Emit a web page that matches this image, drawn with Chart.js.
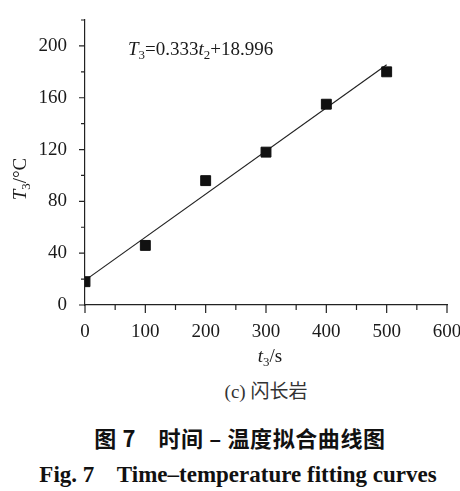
<!DOCTYPE html>
<html>
<head>
<meta charset="utf-8">
<script src="https://cdn.jsdelivr.net/npm/chart.js@4.4.1/dist/chart.umd.min.js"></script>
<style>
  body { margin: 0; background: #fff; }
  #pagina { position: relative; width: 460px; height: 491px; overflow: hidden; }
  #caixa { position: absolute; left: 0; top: 0; width: 460px; height: 370px; }
  .leg { position: absolute; white-space: pre; transform: translate(-50%, -50%); line-height: 1; }
  #sub { left: 266px; top: 389px; font: 19px "Liberation Serif", "Noto Sans CJK SC"; color: #333; }
  #titCn { left: 240px; top: 437px; font: bold 22px "Noto Sans CJK SC"; letter-spacing: 0.6px; color: #111; }
  #titEn { left: 238px; top: 475px; font: bold 23px "Liberation Serif"; color: #111; }
</style>
</head>
<body>
<div id="pagina">
  <div id="caixa"><canvas id="grafico"></canvas></div>
  <div class="leg" id="sub">(c) 闪长岩</div>
  <div class="leg" id="titCn">图 7    时间 – 温度拟合曲线图</div>
  <div class="leg" id="titEn">Fig. 7    Time–temperature fitting curves</div>
</div>
<script>
// dados
const tempos = [0, 100, 200, 300, 400, 500];
const temperaturas = [18, 46, 96, 118, 155, 180];

// reta ajustada T3 = 0.333 t2 + 18.996 (pontos extremos)
const ajusteX = [0, 500];
const ajusteY = [19.0, 185.5];

const ticksX = [0, 100, 200, 300, 400, 500, 600];
const ticksXMenor = [50, 150, 250, 350, 450, 550];
const ticksY = [0, 40, 80, 120, 160, 200];
const ticksYMenor = [20, 60, 100, 140, 180, 220];

const fonteSerif = '"Liberation Serif", "Times New Roman", serif';
const corTraco = '#222';

// escreve texto com itálico e subscrito
function textoRico(ctx, partes, x, y, tam, alinhar) {
    const fonteDe = p => (p.it ? 'italic ' : '') + (p.sub ? tam * 0.68 : tam) + 'px ' + fonteSerif;
    let largura = 0;
    partes.forEach(p => { ctx.font = fonteDe(p); largura += ctx.measureText(p.t).width; });
    let cx = alinhar === 'center' ? x - largura / 2 : x;
    ctx.textAlign = 'left';
    ctx.textBaseline = 'alphabetic';
    partes.forEach(p => {
        ctx.font = fonteDe(p);
        ctx.fillText(p.t, cx, p.sub ? y + tam * 0.2 : y);
        cx += ctx.measureText(p.t).width;
    });
}

const extras = {
    id: 'extras',
    afterDraw(chart) {
        const ctx = chart.ctx;
        const sx = chart.scales.x;
        const sy = chart.scales.y;
        const area = chart.chartArea;
        ctx.save();
        ctx.strokeStyle = corTraco;
        ctx.lineWidth = 1.2;
        ctx.beginPath();
        ticksX.forEach(v => { const p = sx.getPixelForValue(v); ctx.moveTo(p, area.bottom); ctx.lineTo(p, area.bottom + 8); });
        ticksXMenor.forEach(v => { const p = sx.getPixelForValue(v); ctx.moveTo(p, area.bottom); ctx.lineTo(p, area.bottom + 5); });
        ticksY.forEach(v => { const p = sy.getPixelForValue(v); ctx.moveTo(area.left, p); ctx.lineTo(area.left - 6, p); });
        ticksYMenor.forEach(v => { const p = sy.getPixelForValue(v); ctx.moveTo(area.left, p); ctx.lineTo(area.left - 4, p); });
        ctx.stroke();

        ctx.fillStyle = '#1a1a1a';
        // equação
        textoRico(ctx, [
            { t: 'T', it: true }, { t: '3', sub: true }, { t: '=0.333' },
            { t: 't', it: true }, { t: '2', sub: true }, { t: '+18.996' }
        ], 128, 55, 19, 'left');

        // título eixo x
        textoRico(ctx, [{ t: 't', it: true }, { t: '3', sub: true }, { t: '/s' }], 270, 362, 19, 'center');

        // título eixo y
        ctx.translate(26, 179);
        ctx.rotate(-Math.PI / 2);
        textoRico(ctx, [{ t: 'T', it: true }, { t: '3', sub: true }, { t: '/°C' }], 0, 0, 19, 'center');
        ctx.restore();
    }
};

new Chart(document.getElementById('grafico'), {
    type: 'scatter',
    data: {
        datasets: [{
            type: 'scatter',
            data: tempos.map((t, i) => ({ x: t, y: temperaturas[i] })),
            backgroundColor: '#111',
            borderColor: '#111',
            pointStyle: 'rect',
            pointRadius: 7,
            order: 0
        }, {
            type: 'line',
            data: ajusteX.map((t, i) => ({ x: t, y: ajusteY[i] })),
            borderColor: corTraco,
            borderWidth: 1.2,
            pointRadius: 0,
            fill: false,
            order: 1
        }]
    },
    options: {
        responsive: true,
        maintainAspectRatio: false,
        animation: false,
        layout: { padding: { top: 20, right: 13, left: 0, bottom: 0 } },
        plugins: { legend: { display: false }, tooltip: { enabled: false } },
        scales: {
            x: {
                type: 'linear',
                min: 0, max: 600,
                afterBuildTicks: s => { s.ticks = ticksX.map(v => ({ value: v })); },
                afterFit: s => { s.height = 65; s.paddingLeft = 0; s.paddingRight = 0; },
                grid: { display: false, drawTicks: false },
                border: { display: true, color: corTraco, width: 1.2 },
                ticks: { font: { family: fonteSerif, size: 19 }, color: '#1a1a1a', padding: 16, maxRotation: 0 }
            },
            y: {
                min: 0, max: 220,
                afterBuildTicks: s => { s.ticks = ticksY.map(v => ({ value: v })); },
                afterFit: s => { s.width = 85; s.paddingTop = 0; s.paddingBottom = 0; },
                grid: { display: false, drawTicks: false },
                border: { display: true, color: corTraco, width: 1.2 },
                ticks: { font: { family: fonteSerif, size: 19 }, color: '#1a1a1a', padding: 18 }
            }
        }
    },
    plugins: [extras]
});
</script>
</body>
</html>
